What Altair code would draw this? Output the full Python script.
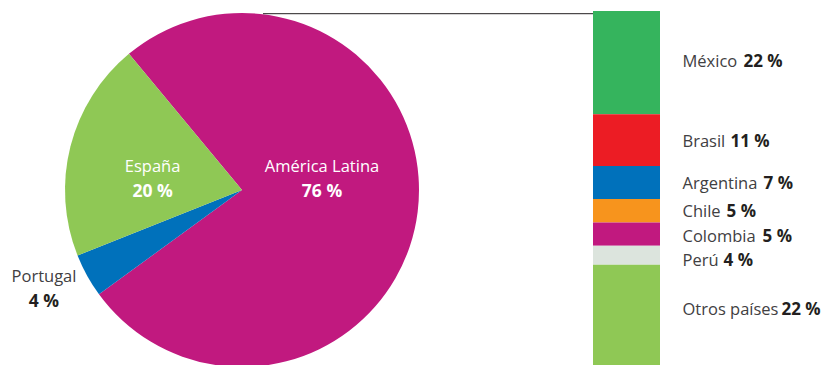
import math
import altair as alt
import pandas as pd

# ---- data ----
regions = ["América Latina", "Portugal", "España"]
region_share = [76, 4, 20]
countries = ["México", "Brasil", "Argentina", "Chile", "Colombia", "Perú", "Otros países"]
country_share = [22, 11, 7, 5, 5, 4, 22]

# ---- styles ----
region_colors = ["#C1197F", "#0071BB", "#8FC855"]
country_colors = ["#35B45D", "#EC1C24", "#0071BB", "#F7941D", "#C1197F", "#DCE4DD", "#8FC855"]
FONT = "Open Sans"
LABEL_COLOR = "#414042"
VALUE_COLOR = "#231F20"

CX, CY, R = 234, 182, 177
START = math.radians(-39.7)
theta_scale = alt.Scale(domain=[0, 100], range=[START, START + 2 * math.pi])

BAR_X0, BAR_X1 = 585, 652
y_scale = alt.Scale(domain=[0, 76], range=[3, 360])
LABEL_X = 674.5

pie_df = pd.DataFrame({"region": regions, "share": region_share, "pos": list(range(len(regions)))})
bar_df = pd.DataFrame({"country": countries, "share": country_share, "pos": list(range(len(countries)))})

pie_base = alt.Chart(pie_df).transform_window(
    cum="sum(share)", sort=[alt.SortField("pos")], frame=[None, 0]
).transform_calculate(
    t0="datum.cum - datum.share",
    mid="datum.cum - datum.share / 2",
    pct="datum.share + ' %'",
)

arcs = pie_base.mark_arc(radius=R).encode(
    theta=alt.Theta("t0:Q", scale=theta_scale, stack=False),
    theta2="cum:Q",
    color=alt.Color("region:N", scale=alt.Scale(domain=regions, range=region_colors), legend=None),
    x=alt.value(CX),
    y=alt.value(CY),
)

pie_label_style = {
    "América Latina": dict(r=80.6, dy=(-28, -3), c1="white", c2="white"),
    "España": dict(r=92.3, dy=(4.5, 29.5), c1="white", c2="white"),
    "Portugal": dict(r=226.2, dy=(-17.3, 7.7), c1=LABEL_COLOR, c2=VALUE_COLOR),
}

layers = [arcs]
for name, st in pie_label_style.items():
    b = pie_base.transform_filter(alt.datum.region == name)
    enc = dict(theta=alt.Theta("mid:Q", scale=theta_scale, stack=False), x=alt.value(CX), y=alt.value(CY))
    layers.append(
        b.mark_text(radius=st["r"], dy=st["dy"][0], align="center", baseline="alphabetic",
                    font=FONT, fontSize=16.5, fill=st["c1"]).encode(text="region:N", **enc)
    )
    layers.append(
        b.mark_text(radius=st["r"], dy=st["dy"][1], align="center", baseline="alphabetic",
                    font=FONT, fontSize=17.5, fontWeight="bold", fill=st["c2"]).encode(text="pct:N", **enc)
    )

bar_base = alt.Chart(bar_df).transform_window(
    cum="sum(share)", sort=[alt.SortField("pos")], frame=[None, 0]
).transform_calculate(
    y0="datum.cum - datum.share",
    mid="datum.cum - datum.share / 2",
    pct="datum.share + ' %'",
)

bars = bar_base.mark_bar().encode(
    x=alt.value(BAR_X0),
    x2=alt.value(BAR_X1),
    y=alt.Y("y0:Q", scale=y_scale, axis=None, stack=False),
    y2="cum:Q",
    color=alt.Color("country:N", scale=alt.Scale(domain=countries, range=country_colors), legend=None),
)
layers.append(bars)

# label dy (baseline adjust) and value dx (offset of bold value from label start)
bar_label_style = {
    "México": (4, 61),
    "Brasil": (6.5, 48),
    "Argentina": (6.5, 81),
    "Chile": (6.1, 44),
    "Colombia": (7.9, 80),
    "Perú": (10.8, 41),
    "Otros países": (-1.3, 99),
}
for name, (dy, dx) in bar_label_style.items():
    b = bar_base.transform_filter(alt.datum.country == name)
    layers.append(
        b.mark_text(align="left", baseline="alphabetic", dy=dy, font=FONT, fontSize=16.5,
                    fill=LABEL_COLOR).encode(
            x=alt.value(LABEL_X), y=alt.Y("mid:Q", scale=y_scale, axis=None), text="country:N")
    )
    layers.append(
        b.mark_text(align="left", baseline="alphabetic", dy=dy, dx=dx, font=FONT, fontSize=17,
                    fontWeight="bold", fill=VALUE_COLOR).encode(
            x=alt.value(LABEL_X), y=alt.Y("mid:Q", scale=y_scale, axis=None), text="pct:N")
    )

connector = alt.Chart(pd.DataFrame({"a": [0]})).mark_rule(color="#231F20", strokeWidth=1).encode(
    x=alt.value(255), x2=alt.value(BAR_X0), y=alt.value(5.7)
)
layers.append(connector)

chart = alt.layer(*layers).resolve_scale(color="independent").properties(
    width=813, height=357, padding=0, autosize=alt.AutoSizeParams(type="none")
).configure_view(stroke=None)

chart.save("out.html", embed_options={"renderer": "svg", "actions": False})
